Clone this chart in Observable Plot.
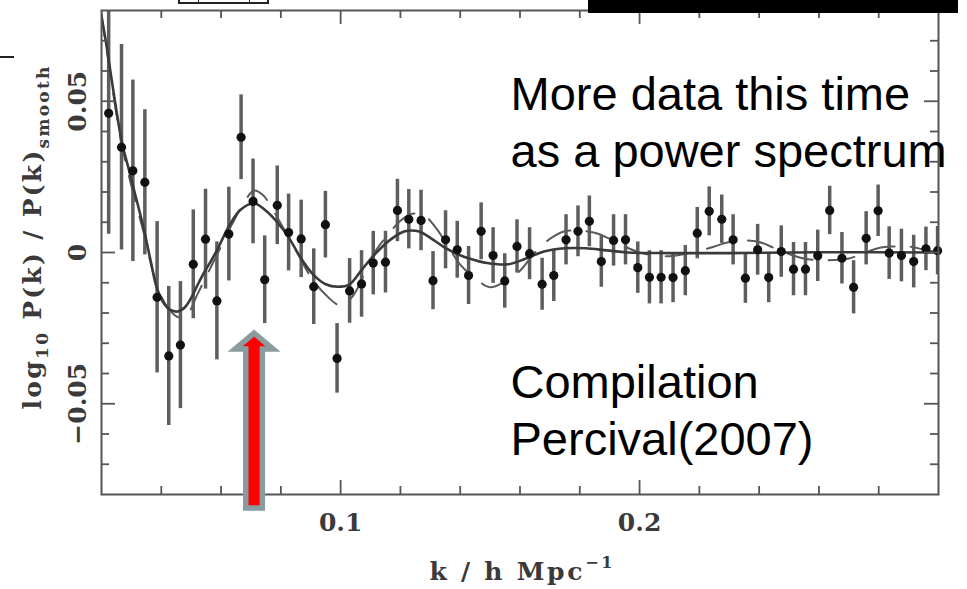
<!DOCTYPE html>
<html>
<head>
<meta charset="utf-8">
<script src="https://cdn.jsdelivr.net/npm/d3@7"></script>
<script src="https://cdn.jsdelivr.net/npm/@observablehq/plot@0.6"></script>
<style>
html, body { margin: 0; padding: 0; background: #ffffff; overflow: hidden; }
#wrap { position: relative; width: 967px; height: 589px; }
#wrap svg { position: absolute; left: 0; top: 0; }
.deco { position: absolute; box-sizing: border-box; }
</style>
</head>
<body>
<div id="wrap"></div>
<script>
// ---- data ----
const kValues = [0.0224,0.0267,0.0305,0.0345,0.0386,0.0425,0.0464,0.0507,0.0548,0.0586,0.0626,0.0667,0.0707,0.0746,
  0.0788,0.0826,0.0868,0.0910,0.0949,0.0988,0.1030,0.1070,0.1109,0.1150,0.1190,0.1228,0.1269,0.1309,
  0.1351,0.1390,0.1428,0.1470,0.1510,0.1549,0.1590,0.1632,0.1674,0.1713,0.1754,0.1794,0.1832,0.1872,
  0.1913,0.1953,0.1994,0.2033,0.2072,0.2112,0.2153,0.2193,0.2233,0.2275,0.2313,0.2354,0.2395,0.2432,
  0.2474,0.2515,0.2555,0.2596,0.2636,0.2677,0.2716,0.2758,0.2798,0.2835,0.2876,0.2917,0.2958,0.2997];
const ratioValues = [0.046,0.0348,0.027,0.0232,-0.0148,-0.0342,-0.0306,-0.0039,0.0044,-0.016,0.0061,0.0381,0.0169,-0.009,
  0.0156,0.0066,0.0045,-0.0113,0.0092,-0.035,-0.0127,-0.0104,-0.0035,-0.0032,0.0139,0.011,0.0106,-0.0093,
  0.0042,0.0009,-0.0076,0.007,-0.001,-0.0094,0.002,-0.0004,-0.0105,-0.0076,0.0042,0.007,0.0103,-0.003,
  0.004,0.0042,-0.005,-0.0082,-0.0082,-0.0083,-0.006,0.0064,0.0136,0.011,0.0042,-0.0085,0.0009,-0.0083,
  0.0003,-0.0055,-0.0055,-0.0011,0.0139,-0.0019,-0.0115,0.0047,0.0138,-0.0002,-0.001,-0.003,0.0012,0.0006];
const errValues = [0.040,0.034,0.030,0.024,0.025,0.023,0.021,0.018,0.0165,0.0195,0.0155,0.014,0.014,0.0145,
  0.013,0.0127,0.0128,0.0125,0.011,0.0115,0.0107,0.011,0.0105,0.0102,0.0103,0.0098,0.010,0.0096,
  0.0096,0.0094,0.0096,0.0094,0.0092,0.009,0.0088,0.0086,0.0086,0.0086,0.0083,0.0084,0.0084,0.0085,
  0.0085,0.0083,0.0085,0.0088,0.0088,0.0083,0.0083,0.0085,0.0081,0.008,0.0083,0.0083,0.0084,0.0083,
  0.0085,0.0088,0.0088,0.0085,0.008,0.0085,0.0088,0.0088,0.0085,0.0087,0.0087,0.0087,0.0072,0.008];

// smooth model curve (solid)
const modelK = [0.0197,0.0219,0.0245,0.0269,0.0290,0.0308,0.0341,0.0365,0.0386,0.0410,
  0.0430,0.0455,0.0480,0.0500,0.0520,0.0542,0.0565,0.0587,0.0626,0.0665,
  0.0710,0.0750,0.0788,0.0826,0.0868,0.0910,0.0950,0.0990,0.1030,0.1070,
  0.1115,0.1170,0.1215,0.1260,0.1310,0.1350,0.1390,0.1430,0.1490,0.1560,
  0.1620,0.1680,0.1750,0.1820,0.1890,0.1960,0.2100,0.2300,0.2600,0.3000];
const modelRatio = [0.080,0.067,0.050,0.036,0.028,0.021,0.008,-0.003,-0.012,-0.017,
  -0.019,-0.0195,-0.018,-0.015,-0.011,-0.0068,-0.003,0.0009,0.0086,0.0141,
  0.0163,0.0138,0.010,0.005,-0.002,-0.0075,-0.0105,-0.0113,-0.0105,-0.0058,
  -0.0005,0.0045,0.007,0.007,0.0042,0.0015,-0.0005,-0.002,-0.0035,-0.0039,
  -0.002,0.0003,0.0014,0.0014,0.0007,0.0,-0.0002,-0.0002,0.0001,0.0];

// second (dashed) model curve
const altK = [0.0197,0.0219,0.0245,0.0269,0.0300,0.0340,0.0380,0.0420,0.0460,0.0490,
  0.0520,0.0560,0.0600,0.0640,0.0680,0.0710,0.0740,0.0780,0.0820,0.0860,
  0.0900,0.0950,0.1000,0.1040,0.1080,0.1120,0.1160,0.1200,0.1240,0.1280,
  0.1320,0.1360,0.1400,0.1450,0.1500,0.1550,0.1600,0.1650,0.1700,0.1750,
  0.1800,0.1850,0.1900,0.1950,0.2000,0.2050,0.2100,0.2150,0.2200,0.2250,
  0.2300,0.2350,0.2400,0.2450,0.2500,0.2550,0.2600,0.2650,0.2700,0.2750,
  0.2800,0.2850,0.2900,0.2950,0.3000];
const altRatio = [0.080,0.066,0.049,0.035,0.022,0.007,-0.009,-0.018,-0.0215,-0.020,
  -0.014,-0.006,0.002,0.010,0.017,0.0205,0.019,0.013,0.006,-0.001,
  -0.008,-0.014,-0.0175,-0.0145,-0.007,0.001,0.006,0.0105,0.0128,0.0122,
  0.008,0.002,-0.004,-0.0085,-0.0115,-0.0095,-0.006,0.000,0.0045,0.007,
  0.0072,0.0065,0.0045,0.002,0.000,-0.001,-0.0012,-0.0005,0.0005,0.002,
  0.0035,0.004,0.0035,0.0015,-0.0005,-0.002,-0.0025,-0.0025,-0.002,-0.0002,
  0.0015,0.002,0.002,0.001,0.000];

// axes
const xTickValues = [0.1, 0.2];
const xTickLabels = ["0.1", "0.2"];
const xMinorTicks = [0.04, 0.06, 0.08, 0.12, 0.14, 0.16, 0.18, 0.22, 0.24, 0.26, 0.28];
const yTickValues = [0.05, 0, -0.05];
const yTickLabels = ["0.05", "0", "\u22120.05"];
const yMinorTicks = [0.07, 0.06, 0.04, 0.03, 0.02, 0.01, -0.01, -0.02, -0.03, -0.04, -0.06, -0.07];

// annotations
const noteTop = "More data this time\nas a power spectrum";
const noteBottom = "Compilation\nPercival(2007)";
const arrowK = 0.0712;
const arrowTipRatio = -0.0268;
const xTitleK = 0.1605;

// ---- layout ----
const W = 967, H = 589;
const mL = 101, mR = 29, mT = 10, mB = 95;
const innerW = W - mL - mR, innerH = H - mT - mB;
const frameColor = "#555555";
const serif = "DejaVu Serif";
const sans = "Liberation Sans, Arial, sans-serif";
const minorLen = 8, majorLen = 14;

const points = kValues.map((k, i) => ({k, r: ratioValues[i], e: errValues[i]}));
const model = modelK.map((k, i) => ({k, r: modelRatio[i]}));
const alt = altK.map((k, i) => ({k, r: altRatio[i]}));

const tickStyle = {stroke: frameColor, strokeWidth: 1.8};

const plot = Plot.plot({
  width: W, height: H,
  marginLeft: mL, marginRight: mR, marginTop: mT, marginBottom: mB,
  style: {background: "transparent", overflow: "visible"},
  x: {domain: [0.02, 0.3], axis: null},
  y: {domain: [-0.08, 0.08], axis: null},
  marks: [
    // error bars
    Plot.ruleX(points, {x: "k", y1: d => d.r - d.e, y2: d => d.r + d.e, stroke: "#5e5e5e", strokeWidth: 3.5, clip: true}),
    // curves
    Plot.line(alt, {x: "k", y: "r", curve: "catmull-rom", stroke: "#5a5a5a", strokeWidth: 2, strokeDasharray: "26,16", clip: true}),
    Plot.line(model, {x: "k", y: "r", curve: "catmull-rom", stroke: "#3a3a3a", strokeWidth: 2.6, clip: true}),
    // points
    Plot.dot(points, {x: "k", y: "r", r: 4.6, fill: "#111111", stroke: "none"}),
    // frame
    Plot.frame({stroke: frameColor, strokeWidth: 2}),
    // ticks: bottom / top
    Plot.tickX(xMinorTicks, {x: d => d, insetTop: innerH - minorLen, ...tickStyle}),
    Plot.tickX(xMinorTicks, {x: d => d, insetBottom: innerH - minorLen, ...tickStyle}),
    Plot.tickX(xTickValues, {x: d => d, insetTop: innerH - majorLen, ...tickStyle}),
    Plot.tickX(xTickValues, {x: d => d, insetBottom: innerH - majorLen, ...tickStyle}),
    // ticks: left / right
    Plot.tickY(yMinorTicks, {y: d => d, insetRight: innerW - minorLen, ...tickStyle}),
    Plot.tickY(yMinorTicks, {y: d => d, insetLeft: innerW - minorLen, ...tickStyle}),
    Plot.tickY(yTickValues, {y: d => d, insetRight: innerW - majorLen, ...tickStyle}),
    Plot.tickY(yTickValues, {y: d => d, insetLeft: innerW - majorLen, ...tickStyle}),
    // tick labels
    Plot.text(xTickValues, {x: d => d, text: (d, i) => xTickLabels[i], frameAnchor: "bottom", dy: 28,
      lineAnchor: "middle", fontFamily: serif, fontWeight: "bold", fontSize: 25, fill: "#3a3a3a"}),
    Plot.text(yTickValues, {y: d => d, text: (d, i) => yTickLabels[i], frameAnchor: "left", dx: -24, rotate: -90,
      lineAnchor: "middle", textAnchor: "middle", fontFamily: serif, fontWeight: "bold", fontSize: 25, fill: "#3a3a3a"}),
    // annotations
    Plot.text([noteTop], {text: d => d, frameAnchor: "top-left", dx: 409, dy: 156, textAnchor: "start",
      lineAnchor: "bottom", lineHeight: 1.21, fontFamily: sans, fontSize: 47, fill: "#000000"}),
    Plot.text([noteBottom], {text: d => d, frameAnchor: "top-left", dx: 409, dy: 444, textAnchor: "start",
      lineAnchor: "bottom", lineHeight: 1.21, fontFamily: sans, fontSize: 47, fill: "#000000"})
  ]
});

const wrap = document.getElementById("wrap");
wrap.appendChild(plot);

const svg = d3.select(plot);
const X = plot.scale("x"), Y = plot.scale("y");

// y axis title (rotated, with subscripts)
const yt = svg.append("text")
  .attr("transform", `translate(41,${(mT + H - mB) / 2 - 14}) rotate(-90)`)
  .attr("text-anchor", "middle")
  .attr("font-family", serif).attr("font-weight", "bold").attr("font-size", 25).attr("fill", "#3a3a3a")
  .attr("textLength", 343).attr("lengthAdjust", "spacing");
yt.append("tspan").text("log");
yt.append("tspan").attr("font-size", 17).attr("dy", 7).text("10");
yt.append("tspan").attr("dy", -7).text(" P(k) / P(k)");
yt.append("tspan").attr("font-size", 17).attr("dy", 8).text("smooth");

// x axis title
const xt = svg.append("text")
  .attr("x", X.apply(xTitleK)).attr("y", 580)
  .attr("text-anchor", "middle")
  .attr("font-family", serif).attr("font-weight", "bold").attr("font-size", 25).attr("fill", "#3a3a3a")
  .attr("textLength", 183).attr("lengthAdjust", "spacing");
xt.append("tspan").text("k / h Mpc");
xt.append("tspan").attr("font-size", 16).attr("dy", -12).text("\u22121");

// red block arrow pointing at the first acoustic peak
const tx = X.apply(arrowK), ty = Y.apply(arrowTipRatio);
const arrowPath = [
  [tx, ty], [tx + 19, ty + 16], [tx + 8.3, ty + 16], [tx + 8.3, ty + 175],
  [tx - 8.3, ty + 175], [tx - 8.3, ty + 16], [tx - 19, ty + 16]
];
svg.append("path")
  .attr("d", "M" + arrowPath.map(p => p.join(",")).join("L") + "Z")
  .attr("fill", "#ff0000").attr("stroke", "#8a9c9e").attr("stroke-width", 5.5).attr("stroke-linejoin", "miter");

// slide decorations around the figure
function deco(style) {
  const d = document.createElement("div");
  d.className = "deco";
  Object.assign(d.style, style);
  wrap.appendChild(d);
}
deco({left: "588px", top: "0px", width: "370px", height: "13px", background: "#000"});
deco({left: "178px", top: "-3px", width: "91px", height: "7px", border: "2px solid #222"});
deco({left: "198px", top: "-3px", width: "52px", height: "6px", border: "1.5px solid #222"});
deco({left: "0px", top: "56px", width: "14px", height: "2px", background: "#222"});
</script>
</body>
</html>
